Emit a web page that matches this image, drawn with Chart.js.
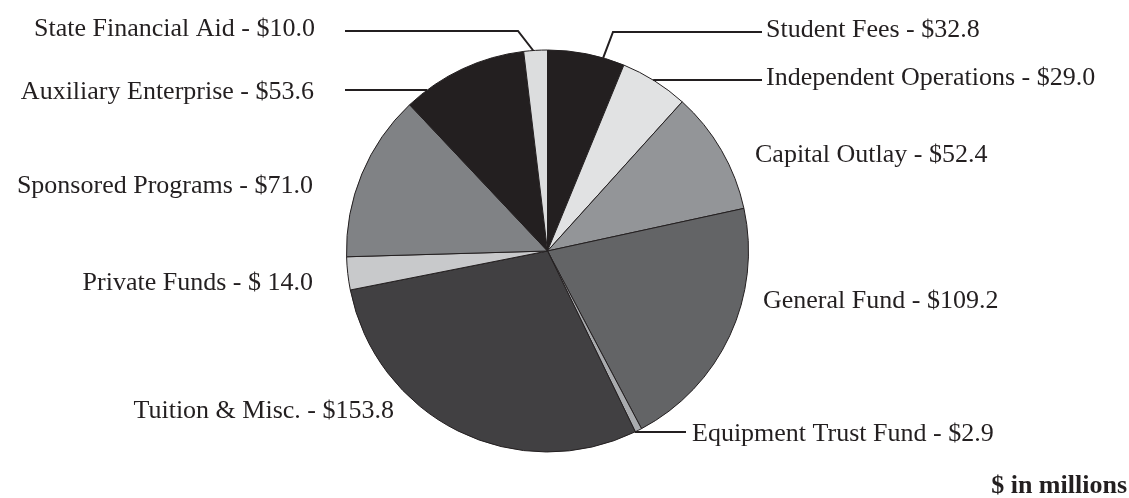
<!DOCTYPE html>
<html>
<head>
<meta charset="utf-8">
<script src="https://cdn.jsdelivr.net/npm/chart.js@4.4.1/dist/chart.umd.min.js"></script>
<style>
  html, body { margin: 0; padding: 0; background: #ffffff; }
  #wrap { width: 1129px; height: 498px; position: relative; }
</style>
</head>
<body>
<div id="wrap"><canvas id="c" width="1129" height="498"></canvas></div>
<script>
// Revenue sources, $ in millions, clockwise from 12 o'clock
const categories = [
  'Student Fees', 'Independent Operations', 'Capital Outlay', 'General Fund',
  'Equipment Trust Fund', 'Tuition & Misc.', 'Private Funds',
  'Sponsored Programs', 'Auxiliary Enterprise', 'State Financial Aid'
];
const amounts = [32.8, 29.0, 52.4, 109.2, 2.9, 153.8, 14.0, 71.0, 53.6, 10.0];
const amountLabels = ['$32.8', '$29.0', '$52.4', '$109.2', '$2.9', '$153.8', '$ 14.0', '$71.0', '$53.6', '$10.0'];
const unitNote = '$ in millions';

const sliceColors = ['#231f20', '#e1e2e3', '#939598', '#636466', '#a9abae',
                     '#414042', '#c8c9cb', '#808285', '#231f20', '#dcddde'];

// Label placement: x, baseline y, alignment; optional leader line
// leader.frac: point on the slice's arc (fraction of its sweep), elbow then horizontal run
// leader.hy: horizontal leader at that y, from the circle edge to endX
const labelLayout = [
  { x: 766, y: 37,  align: 'left',  leader: { frac: 0.72, elbow: [613, 32], endX: 762 } },
  { x: 766, y: 85,  align: 'left',  leader: { hy: 80, endX: 762 } },
  { x: 755, y: 162, align: 'left' },
  { x: 763, y: 308, align: 'left' },
  { x: 692, y: 441, align: 'left',  leader: { hy: 432, endX: 686 } },
  { x: 394, y: 418, align: 'right' },
  { x: 313, y: 290, align: 'right' },
  { x: 313, y: 193, align: 'right' },
  { x: 314, y: 99,  align: 'right', leader: { hy: 90, endX: 345 } },
  { x: 315, y: 36,  align: 'right', leader: { frac: 0.4, elbow: [518, 31], endX: 345 } }
];

const ink = '#231f20';
const labelFont = '26px "Liberation Serif", "Times New Roman", serif';

const labelPlugin = {
  id: 'sliceLabels',
  afterDraw(chart) {
    const ctx = chart.ctx;
    const meta = chart.getDatasetMeta(0);
    ctx.save();
    ctx.fillStyle = ink;
    ctx.strokeStyle = ink;
    ctx.lineWidth = 2;
    ctx.font = labelFont;
    ctx.textBaseline = 'alphabetic';
    categories.forEach((name, i) => {
      const lay = labelLayout[i];
      const arc = meta.data[i];
      ctx.textAlign = lay.align;
      ctx.fillText(name + ' - ' + amountLabels[i], lay.x, lay.y);
      const ld = lay.leader;
      if (!ld) return;
      ctx.beginPath();
      if (ld.frac !== undefined) {
        const a = arc.startAngle + ld.frac * (arc.endAngle - arc.startAngle);
        const px = arc.x + arc.outerRadius * Math.cos(a);
        const py = arc.y + arc.outerRadius * Math.sin(a);
        ctx.moveTo(px, py);
        ctx.lineTo(ld.elbow[0], ld.elbow[1]);
        ctx.lineTo(ld.endX, ld.elbow[1]);
      } else {
        const dy = ld.hy - arc.y;
        const dx = Math.sqrt(Math.max(arc.outerRadius * arc.outerRadius - dy * dy, 0));
        const side = ld.endX > arc.x ? 1 : -1;
        ctx.moveTo(arc.x + side * dx, ld.hy);
        ctx.lineTo(ld.endX, ld.hy);
      }
      ctx.stroke();
    });
    ctx.font = 'bold 26px "Liberation Serif", "Times New Roman", serif';
    ctx.textAlign = 'right';
    ctx.fillText(unitNote, 1127, 493);
    ctx.restore();
  }
};

new Chart(document.getElementById('c'), {
  type: 'pie',
  data: {
    labels: categories,
    datasets: [{
      data: amounts,
      backgroundColor: sliceColors,
      borderColor: ink,
      borderWidth: 1
    }]
  },
  options: {
    responsive: false,
    animation: false,
    radius: 201,
    layout: { padding: { left: 0, right: 34, top: 4, bottom: 0 } },
    plugins: {
      legend: { display: false },
      title: { display: false },
      tooltip: { enabled: false }
    }
  },
  plugins: [labelPlugin]
});
</script>
</body>
</html>
